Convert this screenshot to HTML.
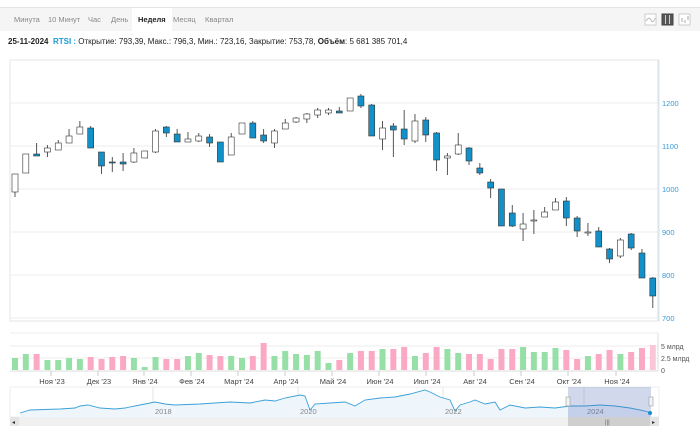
<!DOCTYPE html>
<html><head><meta charset="utf-8">
<style>
body{margin:0;width:700px;height:436px;background:#fff;font-family:"Liberation Sans",sans-serif;overflow:hidden;position:relative}
.tb{position:absolute;left:0;top:7px;width:700px;height:23px;background:#f5f5f5;border-top:1px solid #e4e4e4}
.tb span{position:absolute;top:7px;font-size:7.5px;color:#888}
.tb .act{background:#fff;color:#222;font-weight:bold;top:0;height:23px;line-height:23px;padding:0 6px}
.info{position:absolute;left:8px;top:37px;font-size:8px;color:#222;white-space:nowrap}
svg{position:absolute;left:0;top:0}
</style></head><body>
<div class="tb">
<span style="left:14px">Минута</span><span style="left:48px">10 Минут</span><span style="left:88px">Час</span><span style="left:111px">День</span>
<span class="act" style="left:132px">Неделя</span><span style="left:173px">Месяц</span><span style="left:205px">Квартал</span>
</div>
<div class="info"><b>25-11-2024</b>&nbsp;&nbsp;<b style="color:#1a9bd7">RTSI :</b> Открытие: 793,39, Макс.: 796,3, Мин.: 723,16, Закрытие: 753,78, <b>Объём</b>: 5 681 385 701,4</div>
<svg id="s" width="700" height="436" xmlns="http://www.w3.org/2000/svg"></svg>
<script>
const C=[[174,174,192,197,1],[154,154,173,173,1],[143,154,156,156,0],[145,148,152,157,1],[140,143,150,150,1],[129,136,143,143,1],[121,127,134,134,1],[126,128,148,148,0],[152,152,166,174,0],[157,162,163,172,0],[153,162,164,171,0],[148,153,162,163,1],[151,151,158,158,1],[129,131,152,153,1],[126,127,133,137,0],[129,134,142,142,0],[132,139,142,142,1],[133,136,141,142,1],[134,137,143,147,0],[142,142,162,162,0],[133,137,155,155,1],[123,123,134,134,1],[121,123,138,138,0],[129,135,141,143,0],[129,131,143,148,1],[119,123,129,129,1],[117,118,122,123,1],[113,114,119,123,1],[108,110,115,118,1],[108,110,113,115,1],[107,111,113,113,0],[98,98,111,111,1],[94,96,106,108,0],[104,105,136,136,0],[121,128,139,150,1],[123,126,130,157,0],[110,129,139,145,0],[114,121,141,143,1],[117,120,135,142,0],[132,133,160,171,0],[153,156,158,175,1],[133,145,154,155,1],[147,148,161,165,0],[163,168,173,175,0],[179,182,188,198,0],[189,189,226,226,0],[205,213,226,227,0],[213,224,229,241,1],[210,220,221,234,1],[207,212,217,217,1],[198,202,210,210,1],[197,201,218,226,0],[216,218,231,237,0],[223,232,233,236,1],[227,231,247,247,0],[248,249,259,263,0],[238,240,256,258,1],[233,234,248,250,0],[249,253,278,278,0],[277,278,296,308,0]];
const V=[358,354,354,360,360,358,359,357,359,357,356,358,367,357,359,359,356,353,355,356,356,358,356,343,356,351,354,355,351,363,360,353,351,351,349,349,347,356,353,347,349,353,354,354,359,349,349,347,352,352,348,350,359,356,354,350,354,352,348,345];
let h='';
h+='<rect x="10" y="60" width="649" height="261" fill="none" stroke="#e6e6e6"/>';
[103,146,189,232,275,318].forEach((y,i)=>{h+=`<line x1="10" y1="${y}" x2="658" y2="${y}" stroke="#ececec"/><text x="662" y="${y+3}" font-size="7.5" fill="#3a9ad9">${1200-i*100}</text>`});
h+='<line x1="658" y1="60" x2="658" y2="321" stroke="#cfe3f3"/>';
h+='<line x1="10" y1="333" x2="658" y2="333" stroke="#eee"/><line x1="10" y1="346" x2="658" y2="346" stroke="#eee"/><line x1="10" y1="358" x2="658" y2="358" stroke="#eee"/><line x1="10" y1="371" x2="658" y2="371" stroke="#ddd"/><line x1="658" y1="333" x2="658" y2="371" stroke="#ddd"/>';
[['5 млрд',349],['2.5 млрд',361],['0',373]].forEach(a=>h+=`<text x="661" y="${a[1]}" font-size="7" fill="#555">${a[0]}</text>`);
C.forEach((c,i)=>{const x=15+i*10.81;const up=c[4];
 h+=`<line x1="${x}" y1="${c[0]}" x2="${x}" y2="${c[3]}" stroke="#444" stroke-width="0.9"/>`;
 const bh=Math.max(c[2]-c[1],1);
 h+=`<rect x="${x-3}" y="${c[1]}" width="6" height="${bh}" fill="${up?'#fff':'#1390c8'}" stroke="#333" stroke-width="0.6"/>`;
 const v=V[i];h+=`<rect x="${x-3}" y="${v}" width="6" height="${370-v}" fill="${i==59?'#fcc6da':(up?'#96e0a8':'#fba8c4')}"/>`;
});
const M=[["Ноя '23",51],["Дек '23",98],["Янв '24",144],["Фев '24",191],["Март '24",238],["Апр '24",285],["Май '24",332],["Июн '24",379],["Июл '24",426],["Авг '24",474],["Сен '24",521],["Окт '24",568],["Ноя '24",616]];
M.forEach(m=>{h+=`<line x1="${m[1]}" y1="371" x2="${m[1]}" y2="376" stroke="#ccc"/><text x="${m[1]+1}" y="384" font-size="7.5" fill="#444" text-anchor="middle">${m[0]}</text>`});
// navigator
h+='<rect x="10" y="387" width="649" height="30" fill="#fff" stroke="#eee"/>';
[153,298,443,584].forEach(x=>h+=`<line x1="${x}" y1="387" x2="${x}" y2="417" stroke="#e6e6e6"/>`);
let pts=[[20,413],[30,410],[60,409],[75,408],[80,406],[88,405],[100,408],[115,409],[125,408],[140,405],[155,402],[165,404],[175,405],[200,404],[230,402],[250,403],[265,400],[275,401],[285,398],[300,395],[305,396],[310,410],[315,404],[330,403],[345,402],[355,406],[365,400],[380,398],[395,397],[410,394],[425,390],[430,392],[440,397],[450,400],[455,411],[460,405],[470,402],[475,400],[485,404],[495,402],[500,410],[510,405],[525,408],[540,407],[555,408],[570,406],[585,406],[600,405],[615,406],[630,408],[645,411],[651,413]];
let d='M'+pts.map(p=>p.join(',')).join(' L');
h+=`<path d="${d} L651,417 L20,417 Z" fill="#eef5fb"/><path d="${d}" fill="none" stroke="#3aa0d8" stroke-width="0.9"/>`;
[['2018',155],['2020',300],['2022',445],['2024',587]].forEach(a=>h+=`<text x="${a[1]}" y="414" font-size="7.5" fill="#888">${a[0]}</text>`);
h+='<rect x="568" y="387" width="83" height="30" fill="rgba(70,100,180,0.25)"/>';
h+='<rect x="566" y="397" width="4" height="9" fill="#f2f2f2" stroke="#999" stroke-width="0.6"/><rect x="649" y="397" width="4" height="9" fill="#f2f2f2" stroke="#999" stroke-width="0.6"/>';
h+='<circle cx="650" cy="413" r="2" fill="#1a8fd0"/>';
h+='<rect x="10" y="417" width="649" height="9" fill="#f0f0f0"/><rect x="568" y="417" width="83" height="9" fill="#cfcfcf"/><rect x="10" y="417" width="9" height="9" fill="#e4e4e4"/><rect x="650" y="417" width="9" height="9" fill="#e4e4e4"/>';
h+='<text x="12" y="424" font-size="6" fill="#333">◂</text><text x="652" y="424" font-size="6" fill="#333">▸</text><text x="605" y="424" font-size="6" fill="#666">|||</text>';
// icons
h+='<rect x="645" y="14" width="11" height="11" fill="#fff" stroke="#ccc"/><path d="M646,21 Q649,16 651,20 T655,18" fill="none" stroke="#bbb"/>';
h+='<rect x="662" y="14" width="11" height="11" fill="#555" stroke="#444"/><line x1="665.5" y1="15" x2="665.5" y2="24" stroke="#ccc"/><line x1="669.5" y1="15" x2="669.5" y2="24" stroke="#ccc"/>';
h+='<rect x="679" y="14" width="11" height="11" fill="#fff" stroke="#ccc"/><path d="M682,18 V22 M685,20 V23 M688,16 V20" stroke="#aaa"/>';
document.getElementById('s').innerHTML=h;
</script>
</body></html>
